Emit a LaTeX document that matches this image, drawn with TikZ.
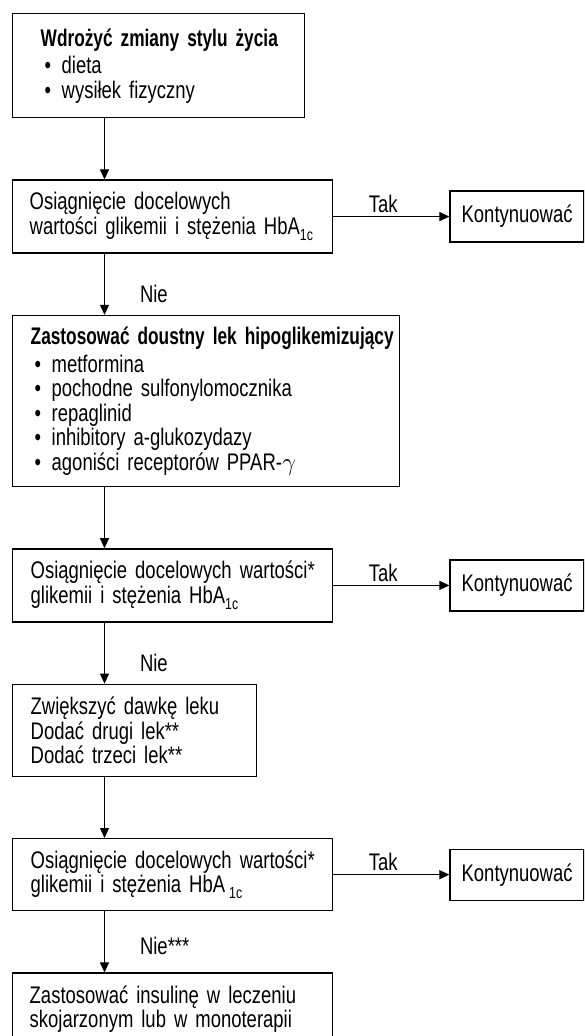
\documentclass[tikz,border=0pt]{standalone}
\usepackage{fontspec}
\setmainfont{Liberation Sans}[FakeStretch=0.77, BoldFeatures={FakeStretch=0.72}]
\usetikzlibrary{positioning,arrows.meta}

\newcommand{\pkt}{\makebox[21pt][l]{\hspace{4pt}\textbullet}}
\newcommand{\dolny}[1]{\raisebox{-6pt}{\fontsize{16}{16}\selectfont #1}}

\tikzset{
  ramka/.style={draw, line width=1.4pt, inner xsep=0pt, inner ysep=0pt, align=left,
    execute at begin node={\leftskip=#1\relax\hyphenpenalty=10000\relax}},
  ramka/.default=17pt,
  dalej/.style={draw, line width=1.4pt, inner sep=0pt, minimum width=134pt, minimum height=51pt},
  tak/.style={above, pos=.43, inner sep=3pt},
  nie/.style={right=32pt, pos=.66, inner sep=3pt}
}

\begin{document}
\begin{tikzpicture}[x=1pt, y=-1pt, >={Triangle[length=10pt,width=9pt]},
    font=\fontsize{24}{24.5}\selectfont]
  \path[fill=white, use as bounding box] (0,0) rectangle (584,1036);
  \clip (0,0) rectangle (584,1036);

  % lewa kolumna
  \node[ramka=28pt, text width=292pt, minimum height=104pt, anchor=north west] (zmiany) at (12,13)
    {\textbf{Wdrożyć zmiany stylu życia}\\[3pt]\pkt dieta\\\pkt wysiłek fizyczny};
  \node[ramka, text width=320pt, minimum height=73pt, below=61pt of zmiany.south west, anchor=north west] (cel1)
    {Osiągnięcie docelowych\\wartości glikemii i stężenia HbA\dolny{1c}};
  \node[ramka=18pt, text width=387pt, minimum height=171pt, below=61pt of cel1.south west, anchor=north west] (leki)
    {\textbf{Zastosować doustny lek hipoglikemizujący}\\[3pt]\pkt metformina\\\pkt pochodne sulfonylomocznika\\
     \pkt repaglinid\\\pkt inhibitory a-glukozydazy\\\pkt agoniści receptorów PPAR-$\gamma$};
  \node[ramka=18pt, text width=320pt, minimum height=73pt, below=61pt of leki.south west, anchor=north west] (cel2)
    {Osiągnięcie docelowych wartości*\\glikemii i stężenia HbA\dolny{1c}};
  \node[ramka=18pt, text width=244pt, minimum height=92pt, below=61pt of cel2.south west, anchor=north west] (dawka)
    {Zwiększyć dawkę leku\\Dodać drugi lek**\\Dodać trzeci lek**};
  \node[ramka=18pt, text width=320pt, minimum height=72pt, below=61pt of dawka.south west, anchor=north west] (cel3)
    {Osiągnięcie docelowych wartości*\\glikemii i stężenia HbA\,\dolny{1c}};
  \node[ramka, text width=320pt, minimum height=72pt, below=61pt of cel3.south west, anchor=north west] (insulina)
    {Zastosować insulinę w leczeniu\\skojarzonym lub w monoterapii};

  % prawa kolumna
  \node[dalej, right=116pt of cel1] (dalej1) {Kontynuować};
  \node[dalej, right=116pt of cel2] (dalej2) {Kontynuować};
  \node[dalej, right=116pt of cel3] (dalej3) {Kontynuować};

  \path[->, line width=1.1pt]
  ([xshift=92.5pt]zmiany.south west) edge ([xshift=92.5pt]cel1.north west)
  ([xshift=92.5pt]cel1.south west) edge node[nie] {Nie} ([xshift=92.5pt]leki.north west)
  ([xshift=92.5pt]leki.south west) edge ([xshift=92.5pt]cel2.north west)
  ([xshift=92.5pt]cel2.south west) edge node[nie] {Nie} ([xshift=92.5pt]dawka.north west)
  ([xshift=92.5pt]dawka.south west) edge ([xshift=92.5pt]cel3.north west)
  ([xshift=92.5pt]cel3.south west) edge node[nie, pos=.57] {Nie***} ([xshift=92.5pt]insulina.north west)
  (cel1) edge node[tak] {Tak} (dalej1)
  (cel2) edge node[tak] {Tak} (dalej2)
  (cel3) edge node[tak] {Tak} (dalej3)
  ;
\end{tikzpicture}
\end{document}
